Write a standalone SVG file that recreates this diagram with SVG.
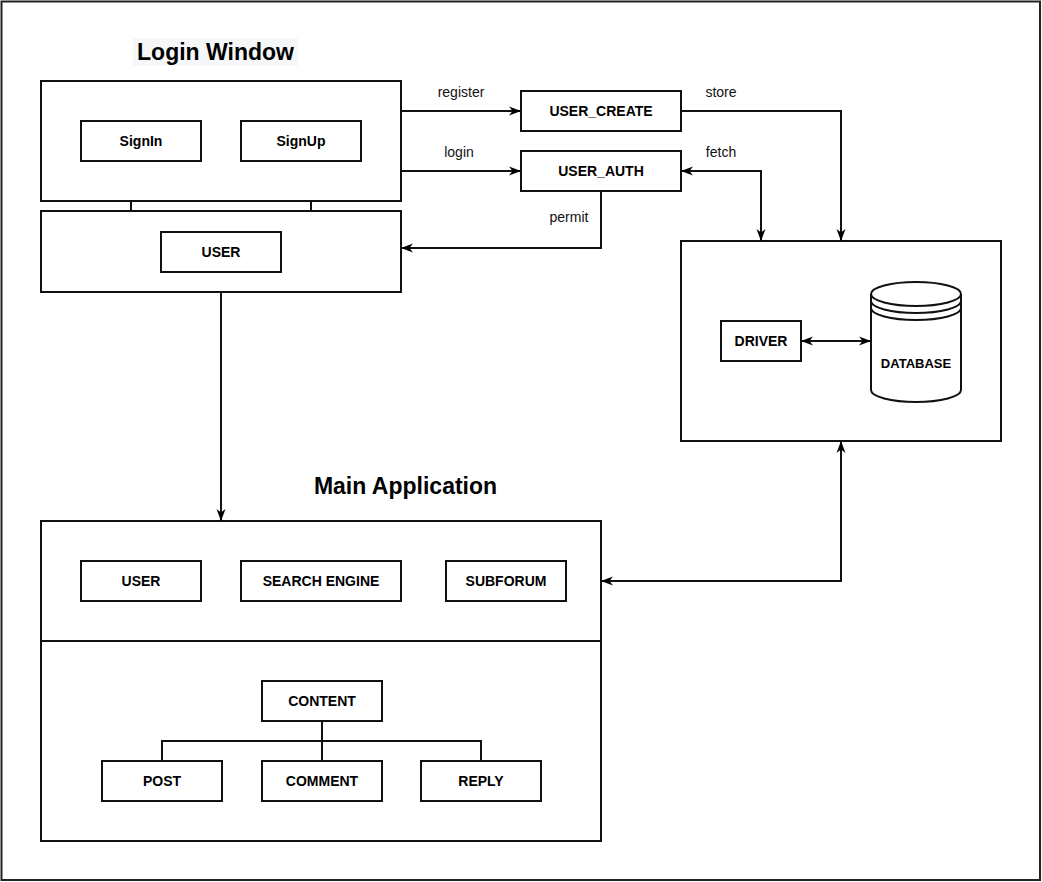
<svg xmlns="http://www.w3.org/2000/svg" width="1042" height="882" viewBox="0 0 1042 882">
<defs>
<style>
.b{fill:#fff;stroke:#111;stroke-width:2}
.c{fill:none;stroke:#111;stroke-width:2}
.t{font-family:"Liberation Sans",Arial,sans-serif;font-weight:bold;font-size:14px;text-anchor:middle;fill:#000}
.e{font-family:"Liberation Sans",Arial,sans-serif;font-size:14px;text-anchor:middle;fill:#111}
.h{font-family:"Liberation Sans",Arial,sans-serif;font-weight:bold;font-size:23px;text-anchor:middle;fill:#000}
</style>
<marker id="a" viewBox="0 0 12 12" refX="11" refY="6" markerWidth="12" markerHeight="12" markerUnits="userSpaceOnUse" orient="auto-start-reverse">
<path d="M0,1.5 L12,6 L0,10.5 L3.5,6 z" fill="#000"/>
</marker>
</defs>
<rect x="0" y="0" width="1042" height="882" fill="#fff"/>
<rect id="frame" x="1.5" y="1.5" width="1038.5" height="878.5" fill="none" stroke="#222" stroke-width="2"/>

<g id="login-title">
<rect x="133" y="38" width="165" height="28" fill="#f6f7f9"/>
<text class="h" x="215.5" y="60">Login Window</text>
</g>
<g id="main-title">
<text class="h" x="405.5" y="494">Main Application</text>
</g>

<g id="login-window">
<rect class="b" x="41" y="81" width="360" height="120"/>
</g>
<g id="signin"><rect class="b" x="81" y="121" width="120" height="40"/><text class="t" x="141" y="146">SignIn</text></g>
<g id="signup"><rect class="b" x="241" y="121" width="120" height="40"/><text class="t" x="301" y="146">SignUp</text></g>
<g id="user-panel"><rect class="b" x="41" y="211" width="360" height="81"/></g>
<g id="user-login"><rect class="b" x="161" y="232" width="120" height="40"/><text class="t" x="221" y="257">USER</text></g>

<g id="user-create"><rect class="b" x="521" y="91" width="160" height="40"/><text class="t" x="601" y="116">USER_CREATE</text></g>
<g id="user-auth"><rect class="b" x="521" y="151" width="160" height="40"/><text class="t" x="601" y="176">USER_AUTH</text></g>

<g id="db-container"><rect class="b" x="681" y="241" width="320" height="200"/></g>
<g id="driver"><rect class="b" x="721" y="321" width="80" height="40"/><text class="t" x="761" y="346">DRIVER</text></g>
<g id="database">
<path class="b" d="M871,294 A45,12 0 0 1 961,294 V390 A45,12 0 0 1 871,390 Z"/>
<path class="c" d="M871,294 A45,12 0 0 0 961,294 M871,301 A45,12 0 0 0 961,301 M871,308 A45,12 0 0 0 961,308"/>
<text class="t" x="916" y="368" style="font-size:13px">DATABASE</text>
</g>

<g id="main-top"><rect class="b" x="41" y="521" width="560" height="120"/></g>
<g id="main-bottom"><rect class="b" x="41" y="641" width="560" height="200"/></g>
<g id="user-main"><rect class="b" x="81" y="561" width="120" height="40"/><text class="t" x="141" y="586">USER</text></g>
<g id="search"><rect class="b" x="241" y="561" width="160" height="40"/><text class="t" x="321" y="586">SEARCH ENGINE</text></g>
<g id="subforum"><rect class="b" x="446" y="561" width="120" height="40"/><text class="t" x="506" y="586">SUBFORUM</text></g>
<g id="content"><rect class="b" x="262" y="681" width="120" height="40"/><text class="t" x="322" y="706">CONTENT</text></g>
<g id="post"><rect class="b" x="102" y="761" width="120" height="40"/><text class="t" x="162" y="786">POST</text></g>
<g id="comment"><rect class="b" x="262" y="761" width="120" height="40"/><text class="t" x="322" y="786">COMMENT</text></g>
<g id="reply"><rect class="b" x="421" y="761" width="120" height="40"/><text class="t" x="481" y="786">REPLY</text></g>

<g id="connectors">
<path class="c" d="M131,201 V211 M311,201 V211"/>
<path class="c" d="M401,111 H520" marker-end="url(#a)"/>
<path class="c" d="M401,171 H520" marker-end="url(#a)"/>
<path class="c" d="M681,111 H841 V240" marker-end="url(#a)"/>
<path class="c" d="M682,171 H761 V240" marker-start="url(#a)" marker-end="url(#a)"/>
<path class="c" d="M601,191 V248 H402" marker-end="url(#a)"/>
<path class="c" d="M221,292 V520" marker-end="url(#a)"/>
<path class="c" d="M841,442 V581 H602" marker-start="url(#a)" marker-end="url(#a)"/>
<path class="c" d="M802,341 H870" marker-start="url(#a)" marker-end="url(#a)"/>
<path class="c" d="M322,721 V761 M162,761 V741 H481 V761"/>
<text class="e" x="461" y="97">register</text>
<text class="e" x="459" y="157">login</text>
<text class="e" x="721" y="97">store</text>
<text class="e" x="721" y="157">fetch</text>
<text class="e" x="569" y="222">permit</text>
</g>
</svg>
